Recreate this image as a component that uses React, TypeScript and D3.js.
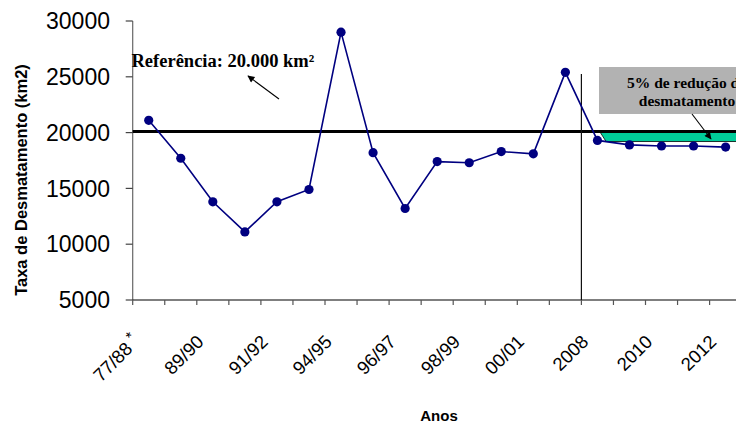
import React from "react";
import * as d3 from "d3";

const categories = [
  "77/88", "88/89", "89/90", "90/91", "91/92", "92/94", "94/95", "95/96", "96/97", "97/98",
  "98/99", "99/00", "00/01", "02/03", "2008", "2009", "2010", "2011", "2012", "2013",
];
const shownLabels = ["77/88", "89/90", "91/92", "94/95", "96/97", "98/99", "00/01", "2008", "2010", "2012"];
const rates = [
  21100, 17700, 13800, 11100, 13800, 14900, 29000, 18200, 13200, 17400,
  17300, 18300, 18100, 25400, 19300, 18900, 18800, 18800, 18700,
];
const yTicks = [5000, 10000, 15000, 20000, 25000, 30000];
const referenceValue = 20100;
const reductionLower = 19200;
const reductionStartIndex = 14;
const dividerIndex = 14;

const W = 736;
const H = 423;
const plotLeft = 132.7;
const step = 32.05;
const plotTop = 21;
const plotBottom = 300;

export default function App() {
  const x = d3
    .scaleBand<string>()
    .domain(categories)
    .range([plotLeft, plotLeft + step * categories.length])
    .padding(0);
  const bw = x.bandwidth();
  const cx = (i: number) => (x(categories[Math.floor(i)]) as number) + bw * (i - Math.floor(i)) + bw / 2;
  const y = d3.scaleLinear().domain([5000, 30000]).range([plotBottom, plotTop]);

  const pts = rates.map((v, i) => [cx(i), y(v)] as [number, number]);
  const line = d3.line()(pts) as string;

  const lastIdx = categories.length - 1;
  const bandPts: [number, number][] = [
    [cx(reductionStartIndex + 0.07), y(referenceValue)],
    [cx(lastIdx), y(referenceValue)],
    [cx(lastIdx), y(reductionLower)],
    [cx(reductionStartIndex + 0.27), y(reductionLower)],
  ];
  const band = (d3.line()(bandPts) as string) + "Z";

  const divX = x(categories[dividerIndex]) as number;
  const sans = "'Liberation Sans', Arial, sans-serif";
  const serif = "'Liberation Serif', 'Times New Roman', serif";

  return (
    <svg width={W} height={H} style={{ position: "absolute", left: 0, top: 0, background: "#fff" }}>
      <defs>
        <marker id="ah" viewBox="0 0 10 10" refX="9" refY="5" markerWidth="9" markerHeight="7" orient="auto" markerUnits="userSpaceOnUse">
          <path d="M0,0 L10,5 L0,10 z" fill="#000" />
        </marker>
      </defs>

      {/* y axis */}
      <line x1={plotLeft} x2={plotLeft} y1={plotTop} y2={plotBottom} stroke="#666" strokeWidth={1.2} />
      {yTicks.map((t) => (
        <g key={t}>
          <line x1={plotLeft - 7} x2={plotLeft} y1={y(t)} y2={y(t)} stroke="#444" strokeWidth={1.2} />
          <text x={110} y={y(t)} dy="0.36em" textAnchor="end" fontFamily={sans} fontSize={23} fill="#000">
            {t}
          </text>
        </g>
      ))}

      {/* x axis */}
      <line x1={plotLeft} x2={W} y1={plotBottom} y2={plotBottom} stroke="#000" strokeWidth={1.2} />
      {categories.map((c) => (
        <line key={c} x1={x(c) as number} x2={x(c) as number} y1={plotBottom} y2={plotBottom + 5} stroke="#555" strokeWidth={1.2} />
      ))}
      {shownLabels.map((c) => {
        const i = categories.indexOf(c);
        const ax = cx(i) - 8;
        const ay = 343;
        return (
          <text key={c} transform={`translate(${ax},${ay}) rotate(-45)`} textAnchor="end" fontFamily={sans} fontSize={18.5} fill="#000">
            {c}
            {i === 0 ? <tspan dy={-7} fontSize={15}>{"\u00a0*"}</tspan> : null}
          </text>
        );
      })}

      {/* axis titles */}
      <text transform={`translate(27,180) rotate(-90)`} textAnchor="middle" fontFamily={sans} fontWeight="bold" fontSize={16.5} fill="#000">
        Taxa de Desmatamento (km2)
      </text>
      <text x={439} y={420.5} textAnchor="middle" fontFamily={sans} fontWeight="bold" fontSize={15} fill="#000">
        Anos
      </text>

      {/* reduction band */}
      <path d={band} fill="#00CC99" stroke="#000" strokeWidth={0.8} />

      {/* reference line */}
      <line x1={plotLeft} x2={W} y1={y(referenceValue)} y2={y(referenceValue)} stroke="#000" strokeWidth={3.2} />

      {/* divider */}
      <line x1={divX} x2={divX} y1={74} y2={plotBottom} stroke="#111" strokeWidth={1.2} />

      {/* series */}
      <path d={line} fill="none" stroke="#000080" strokeWidth={1.6} />
      {pts.map((p, i) => (
        <circle key={i} cx={p[0]} cy={p[1]} r={4.6} fill="#000080" />
      ))}

      {/* reference annotation */}
      <text x={131.5} y={66.5} fontFamily={serif} fontWeight="bold" fontSize={18.5} fill="#000">
        Referência: 20.000 km²
      </text>
      <line x1={279} y1={99} x2={248} y2={76} stroke="#000" strokeWidth={1.1} markerEnd="url(#ah)" />

      {/* reduction annotation */}
      <rect x={599} y={67} width={220} height={47} fill="#B2B2B2" />
      <text x={687} y={87.5} textAnchor="middle" fontFamily={serif} fontWeight="bold" fontSize={15.5} fill="#000">
        5% de redução do
      </text>
      <text x={687} y={105.5} textAnchor="middle" fontFamily={serif} fontWeight="bold" fontSize={15.5} fill="#000">
        desmatamento
      </text>
      <line x1={692} y1={114} x2={711} y2={139} stroke="#000" strokeWidth={1.1} markerEnd="url(#ah)" />
    </svg>
  );
}
